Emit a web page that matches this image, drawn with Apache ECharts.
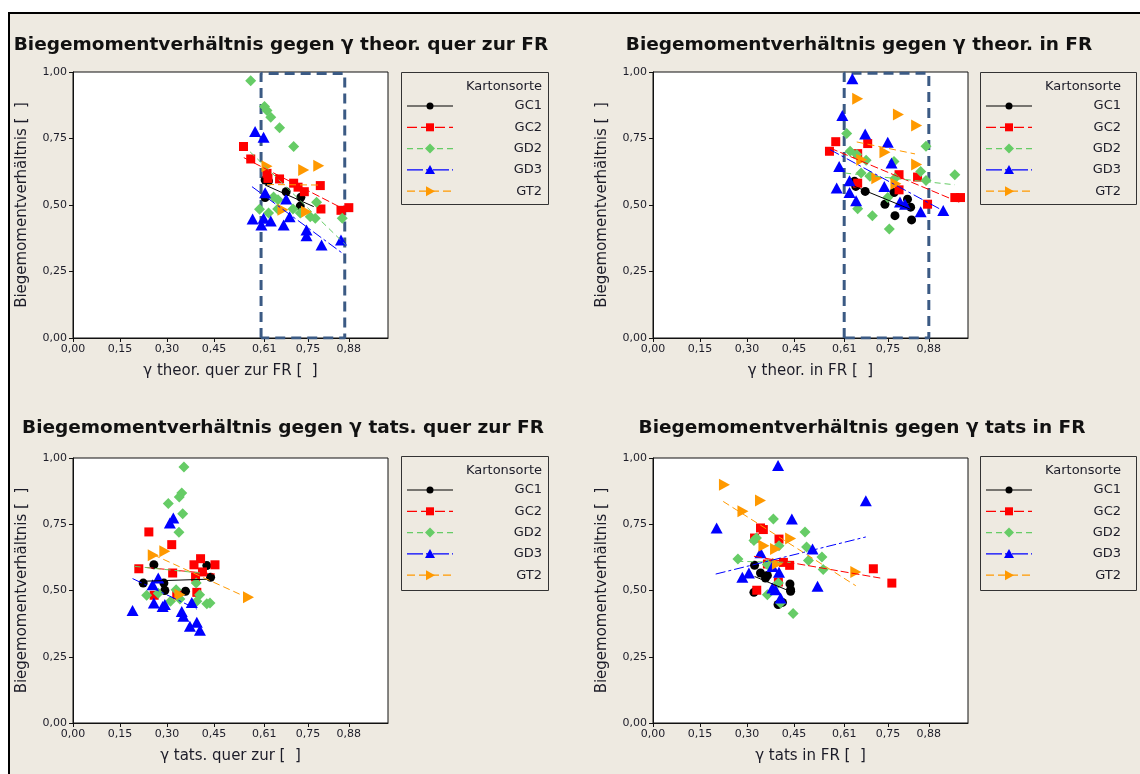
<!DOCTYPE html>
<html><head><meta charset="utf-8">
<script src="https://cdn.jsdelivr.net/npm/echarts@6/dist/echarts.min.js"></script>
<style>
html,body{margin:0;padding:0;background:#fff;}
#bg{position:absolute;left:8px;top:12px;width:1140px;height:770px;background:#EEEAE1;border-top:2px solid #000;border-left:2px solid #000;}
#chart{position:absolute;left:0;top:0;width:1140px;height:774px;}
</style></head><body><div id="bg"></div><div id="chart"></div>
<script>
// ---------- data ----------
const seriesNames = ['GC1','GC2','GD2','GD3','GT2'];
const xTickValues = [0, 0.15, 0.30, 0.45, 0.61, 0.75, 0.88];
const yTickValues = [0, 0.25, 0.50, 0.75, 1.00];

// Panel 1: γ theor. quer zur FR
const p1_GC1 = [[0.613,0.594],[0.624,0.590],[0.613,0.528],[0.680,0.550],[0.727,0.529],[0.725,0.496]];
const p1_GC2 = [[0.544,0.720],[0.567,0.673],[0.619,0.619],[0.622,0.600],[0.659,0.598],[0.704,0.582],[0.718,0.567],[0.738,0.550],[0.789,0.573],[0.791,0.485],[0.855,0.480],[0.880,0.490]];
const p1_GD2 = [[0.567,0.967],[0.611,0.870],[0.619,0.855],[0.631,0.830],[0.659,0.790],[0.704,0.720],[0.595,0.484],[0.640,0.530],[0.654,0.520],[0.653,0.485],[0.702,0.485],[0.725,0.470],[0.777,0.510],[0.757,0.456],[0.773,0.450],[0.859,0.450],[0.624,0.470]];
const p1_GD3 = [[0.581,0.776],[0.608,0.755],[0.613,0.546],[0.573,0.447],[0.601,0.425],[0.608,0.450],[0.631,0.440],[0.672,0.425],[0.680,0.523],[0.691,0.456],[0.745,0.406],[0.745,0.384],[0.793,0.350],[0.855,0.368]];
const p1_GT2 = [[0.619,0.646],[0.736,0.632],[0.784,0.648],[0.670,0.482],[0.745,0.475]];
const p1_GC1_fit = [[0.613,0.575],[0.768,0.494]];
const p1_GC2_fit = [[0.545,0.678],[0.880,0.475]];
const p1_GD2_fit = [[0.565,0.700],[0.870,0.350]];
const p1_GD3_fit = [[0.571,0.569],[0.865,0.314]];
const p1_GT2_fit = [[0.619,0.577],[0.790,0.575]];
const p1_box = [[0.600,0],[0.600,0.994],[0.867,0.994],[0.867,0]];

// Panel 2: γ theor. in FR
const p2_GC1 = [[0.643,0.589],[0.647,0.570],[0.677,0.551],[0.740,0.503],[0.769,0.547],[0.772,0.460],[0.812,0.522],[0.822,0.492],[0.825,0.444]];
const p2_GC2 = [[0.563,0.702],[0.583,0.738],[0.653,0.693],[0.685,0.731],[0.653,0.582],[0.785,0.614],[0.785,0.557],[0.844,0.605],[0.876,0.503],[0.963,0.528],[0.981,0.528]];
const p2_GD2 = [[0.618,0.769],[0.629,0.702],[0.650,0.690],[0.680,0.668],[0.664,0.620],[0.692,0.608],[0.653,0.486],[0.700,0.460],[0.749,0.528],[0.754,0.410],[0.769,0.664],[0.772,0.601],[0.854,0.626],[0.871,0.721],[0.871,0.592],[0.963,0.614]];
const p2_GD3 = [[0.636,0.975],[0.604,0.836],[0.594,0.645],[0.586,0.564],[0.627,0.591],[0.627,0.547],[0.648,0.516],[0.677,0.767],[0.749,0.736],[0.761,0.658],[0.738,0.570],[0.788,0.511],[0.804,0.503],[0.854,0.475],[0.926,0.479]];
const p2_GT2 = [[0.653,0.899],[0.783,0.840],[0.841,0.799],[0.740,0.698],[0.841,0.652],[0.666,0.670],[0.714,0.601],[0.775,0.580]];
const p2_GC1_fit = [[0.643,0.570],[0.825,0.482]];
const p2_GC2_fit = [[0.565,0.714],[0.984,0.507]];
const p2_GD2_fit = [[0.613,0.620],[0.963,0.576]];
const p2_GD3_fit = [[0.565,0.708],[0.920,0.482]];
const p2_GT2_fit = [[0.650,0.737],[0.836,0.692]];
const p2_box = [[0.610,0],[0.610,0.995],[0.880,0.995],[0.880,0]];

// Panel 3: γ tats. quer zur FR
const p3_GC1 = [[0.224,0.528],[0.258,0.597],[0.290,0.528],[0.293,0.500],[0.359,0.497],[0.427,0.594],[0.439,0.550]];
const p3_GC2 = [[0.242,0.721],[0.315,0.673],[0.210,0.582],[0.318,0.566],[0.386,0.597],[0.407,0.620],[0.413,0.570],[0.453,0.597],[0.391,0.551],[0.395,0.493],[0.259,0.482],[0.331,0.484]];
const p3_GD2 = [[0.354,0.966],[0.347,0.868],[0.339,0.853],[0.304,0.828],[0.350,0.790],[0.338,0.720],[0.235,0.482],[0.272,0.490],[0.329,0.503],[0.341,0.468],[0.311,0.459],[0.393,0.528],[0.404,0.484],[0.395,0.459],[0.427,0.450],[0.437,0.453]];
const p3_GD3 = [[0.190,0.425],[0.254,0.522],[0.272,0.547],[0.258,0.453],[0.286,0.440],[0.293,0.447],[0.309,0.755],[0.320,0.774],[0.347,0.421],[0.352,0.403],[0.373,0.365],[0.395,0.380],[0.405,0.350],[0.379,0.455]];
const p3_GT2 = [[0.256,0.633],[0.293,0.648],[0.341,0.484],[0.560,0.475]];
const p3_GC1_fit = [[0.224,0.535],[0.439,0.543]];
const p3_GC2_fit = [[0.197,0.591],[0.453,0.562]];
const p3_GD2_fit = [[0.197,0.591],[0.405,0.566]];
const p3_GD3_fit = [[0.190,0.545],[0.395,0.430]];
const p3_GT2_fit = [[0.256,0.635],[0.571,0.465]];

// Panel 4: γ tats in FR
const p4_GC1 = [[0.324,0.595],[0.322,0.493],[0.343,0.566],[0.359,0.547],[0.365,0.557],[0.437,0.525],[0.439,0.503],[0.439,0.497],[0.399,0.447],[0.413,0.455]];
const p4_GC2 = [[0.343,0.736],[0.352,0.730],[0.324,0.698],[0.402,0.694],[0.416,0.606],[0.436,0.595],[0.400,0.532],[0.331,0.501],[0.703,0.582],[0.762,0.528],[0.365,0.600]];
const p4_GD2 = [[0.384,0.770],[0.485,0.721],[0.330,0.698],[0.322,0.689],[0.402,0.669],[0.490,0.664],[0.539,0.626],[0.496,0.613],[0.543,0.579],[0.271,0.619],[0.365,0.598],[0.400,0.528],[0.365,0.484],[0.447,0.413],[0.407,0.453]];
const p4_GD3 = [[0.399,0.972],[0.679,0.839],[0.203,0.736],[0.443,0.770],[0.343,0.642],[0.509,0.657],[0.285,0.550],[0.306,0.566],[0.381,0.591],[0.402,0.569],[0.381,0.509],[0.391,0.503],[0.407,0.472],[0.525,0.516]];
const p4_GT2 = [[0.228,0.899],[0.343,0.840],[0.287,0.799],[0.354,0.669],[0.391,0.657],[0.439,0.696],[0.397,0.601],[0.647,0.570]];
const p4_GC1_fit = [[0.324,0.553],[0.437,0.497]];
const p4_GC2_fit = [[0.322,0.629],[0.725,0.547]];
const p4_GD2_fit = [[0.269,0.610],[0.439,0.606]];
const p4_GD3_fit = [[0.200,0.562],[0.679,0.702]];
const p4_GT2_fit = [[0.224,0.836],[0.647,0.518]];

const titles = ['Biegemomentverhältnis gegen γ theor. quer zur FR','Biegemomentverhältnis gegen γ theor. in FR','Biegemomentverhältnis gegen γ tats. quer zur FR','Biegemomentverhältnis gegen γ tats in FR'];
const xNames = ['γ theor. quer zur FR [  ]','γ theor. in FR [  ]','γ tats. quer zur [  ]','γ tats in FR [  ]'];
const yName = 'Biegemomentverhältnis [  ]';
const legendTitle = 'Kartonsorte';

// ---------- styles ----------
const colors = ['#000000','#FF0000','#66CC66','#0000FF','#FF9900'];
const symbols = ['circle','rect','diamond','triangle','triangle'];
const symRot = [0,0,0,0,-90];
const symSize = [[9,9],[9,9],[11,11],[12,11],[12,11]];
const dashes = ['solid',[8,3],[6,4],[10,3,3,3],[7,4]];
const FONT = 'DejaVu Sans';

const panels = [
  {pts:[p1_GC1,p1_GC2,p1_GD2,p1_GD3,p1_GT2], fits:[p1_GC1_fit,p1_GC2_fit,p1_GD2_fit,p1_GD3_fit,p1_GT2_fit], box:p1_box},
  {pts:[p2_GC1,p2_GC2,p2_GD2,p2_GD3,p2_GT2], fits:[p2_GC1_fit,p2_GC2_fit,p2_GD2_fit,p2_GD3_fit,p2_GT2_fit], box:p2_box},
  {pts:[p3_GC1,p3_GC2,p3_GD2,p3_GD3,p3_GT2], fits:[p3_GC1_fit,p3_GC2_fit,p3_GD2_fit,p3_GD3_fit,p3_GT2_fit], box:null},
  {pts:[p4_GC1,p4_GC2,p4_GD2,p4_GD3,p4_GT2], fits:[p4_GC1_fit,p4_GC2_fit,p4_GD2_fit,p4_GD3_fit,p4_GT2_fit], box:null}
];
const gridPos = [
  {left:73, top:72, width:315, height:266},
  {left:653, top:72, width:315, height:266},
  {left:73, top:458, width:315, height:265},
  {left:653, top:458, width:315, height:265}
];
const titlePos = [{x:281,y:45},{x:859,y:45},{x:283,y:428},{x:862,y:428}];
const legendPos = [{x:401,y:72,w:147,h:132,m:6},{x:980,y:72,w:156,h:132,m:15},{x:401,y:456,w:147,h:134,m:6},{x:980,y:456,w:156,h:134,m:15}];

const fmt = v => v.toFixed(2).replace('.', ',');

const grid = gridPos.map(g => Object.assign({show:true, backgroundColor:'#fff', borderColor:'#111', borderWidth:1}, g));
const xAxis = gridPos.map((g,i) => ({
  type:'value', gridIndex:i, min:0, max:1.005,
  axisLine:{show:true, onZero:false, lineStyle:{color:'#111'}},
  axisTick:{show:true, length:4, customValues:xTickValues, lineStyle:{color:'#111'}},
  axisLabel:{customValues:xTickValues, formatter:fmt, color:'#1c1c28', fontFamily:FONT, fontSize:11, margin:6},
  splitLine:{show:false},
  name:xNames[i], nameLocation:'middle', nameGap:26,
  nameTextStyle:{fontFamily:FONT, fontSize:15, color:'#1c1c28'}
}));
const yAxis = gridPos.map((g,i) => ({
  type:'value', gridIndex:i, min:0, max:1, interval:0.25,
  axisLine:{show:true, onZero:false, lineStyle:{color:'#111'}},
  axisTick:{show:true, length:4, lineStyle:{color:'#111'}},
  axisLabel:{formatter:fmt, color:'#1c1c28', fontFamily:FONT, fontSize:11, margin:6},
  splitLine:{show:false},
  name:yName, nameLocation:'middle', nameGap:43, nameRotate:90,
  nameTextStyle:{fontFamily:FONT, fontSize:15, color:'#1c1c28'}
}));

const series = [];
panels.forEach((p,i) => {
  if (p.box) {
    series.push({type:'line', xAxisIndex:i, yAxisIndex:i, data:p.box.concat([p.box[0]]), showSymbol:false, silent:true,
      lineStyle:{color:'#3B5A84', width:3, type:[10,6]}, z:1});
  }
  p.pts.forEach((d,k) => {
    series.push({type:'scatter', xAxisIndex:i, yAxisIndex:i, data:d, symbol:symbols[k], symbolRotate:symRot[k],
      symbolSize:symSize[k], itemStyle:{color:colors[k], opacity:1}, z:3});
  });
  p.fits.forEach((d,k) => {
    series.push({type:'line', xAxisIndex:i, yAxisIndex:i, data:d, showSymbol:false, silent:true,
      lineStyle:{color:colors[k], width:1, type:dashes[k]}, z:4});
  });
});

// legends drawn as graphics
function markerShape(k, cx, cy, color) {
  const st = {fill:color};
  if (k===0) return {type:'circle', shape:{cx, cy, r:3.5}, style:st};
  if (k===1) return {type:'rect', shape:{x:cx-4, y:cy-4, width:8, height:8}, style:st};
  if (k===2) return {type:'polygon', shape:{points:[[cx,cy-5],[cx+5,cy],[cx,cy+5],[cx-5,cy]]}, style:st};
  if (k===3) return {type:'polygon', shape:{points:[[cx,cy-5],[cx+5,cy+4],[cx-5,cy+4]]}, style:st};
  return {type:'polygon', shape:{points:[[cx-4,cy-5],[cx+5,cy],[cx-4,cy+5]]}, style:st};
}
const legDash = [null,[10,4],[6,4],[16,3,4,3],[8,4]];
const graphic = [];
legendPos.forEach(L => {
  const ch = [];
  ch.push({type:'rect', shape:{x:0.5, y:0.5, width:L.w, height:L.h}, style:{fill:'none', stroke:'#333', lineWidth:1}});
  ch.push({type:'text', style:{text:legendTitle, x:L.w-L.m, y:15, align:'right', verticalAlign:'middle', font:'13px '+FONT, fill:'#1c1c28'}});
  seriesNames.forEach((n,k) => {
    const cy = 34 + k*21.3;
    ch.push({type:'line', shape:{x1:6, y1:cy, x2:52, y2:cy}, style:{stroke:colors[k], lineWidth:1.2, lineDash:legDash[k]}});
    ch.push(markerShape(k, 29, cy, colors[k]));
    ch.push({type:'text', style:{text:n, x:L.w-L.m, y:cy, align:'right', verticalAlign:'middle', font:'13px '+FONT, fill:'#1c1c28'}});
  });
  graphic.push({type:'group', x:L.x, y:L.y, children:ch});
});
titlePos.forEach((t,i) => {
  graphic.push({type:'text', x:t.x, y:t.y, style:{text:titles[i], align:'center', verticalAlign:'middle', font:'bold 18.5px '+FONT, fill:'#111'}});
});

const chart = echarts.init(document.getElementById('chart'), null, {renderer:'canvas'});
chart.setOption({
  backgroundColor:'transparent',
  animation:false,
  grid, xAxis, yAxis, series, graphic
});
</script></body></html>
